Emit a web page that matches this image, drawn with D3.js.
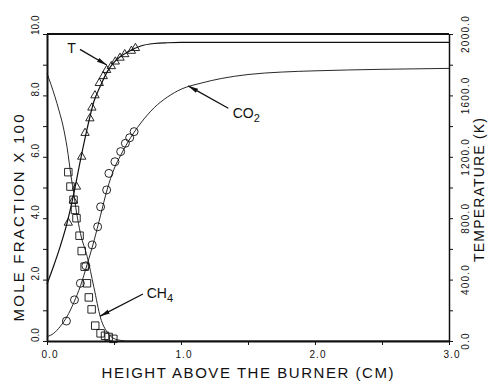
<!DOCTYPE html>
<html>
<head>
<meta charset="utf-8">
<script src="https://cdn.jsdelivr.net/npm/d3@7"></script>
<style>
body { margin: 0; background: #fff; }
svg { display: block; font-family: "Liberation Sans", Arial, sans-serif; }
</style>
</head>
<body>
<div id="container"></div>
<script>
// Axis ticks
const xTickValues = [0, 1, 2, 3]
const xTickLabels = ['0.0', '1.0', '2.0', '3.0']
const leftTickValues = [0, 2, 4, 6, 8, 10]
const leftTickLabels = ['0.0', '2.0', '4.0', '6.0', '8.0', '10.0']
const rightTickValues = [0, 400, 800, 1200, 1600, 2000]
const rightTickLabels = ['0.0', '400.0', '800.0', '1200.0', '1600.0', '2000.0']

// Temperature (K), model curve and measured points (triangles)
const tempCurveX = [0, 0.05, 0.1, 0.15, 0.2, 0.25, 0.3, 0.35, 0.4, 0.45, 0.5, 0.55, 0.6, 0.7, 0.8, 0.9, 1.0, 1.5, 2.0, 2.5, 3.0]
const tempCurveK = [370, 490, 620, 770, 960, 1180, 1385, 1560, 1665, 1755, 1815, 1855, 1882, 1922, 1938, 1943, 1945, 1945, 1945, 1945, 1945]
const tempDataX = [0.159, 0.196, 0.22, 0.259, 0.284, 0.32, 0.335, 0.358, 0.39, 0.42, 0.445, 0.48, 0.51, 0.545, 0.58, 0.63, 0.66]
const tempDataK = [770, 915, 1005, 1200, 1355, 1450, 1520, 1600, 1680, 1725, 1765, 1790, 1820, 1845, 1868, 1890, 1908]

// CH4 mole fraction x 100, curve and measured points (squares)
const ch4CurveX = [0, 0.03, 0.06, 0.09, 0.12, 0.15, 0.18, 0.2, 0.22, 0.25, 0.3, 0.35, 0.4, 0.45, 0.5, 0.55, 0.6, 0.8, 1.0, 3.0]
const ch4CurveY = [8.72, 8.35, 7.95, 7.5, 7.0, 6.3, 5.35, 4.8, 4.2, 3.5, 2.75, 1.75, 0.75, 0.28, 0.08, 0.02, 0, 0, 0, 0]
const ch4DataX = [0.159, 0.175, 0.198, 0.209, 0.22, 0.243, 0.259, 0.281, 0.298, 0.312, 0.333, 0.36, 0.4, 0.433, 0.46, 0.495]
const ch4DataY = [5.5, 5.03, 4.6, 4.27, 4.0, 3.43, 2.93, 2.42, 1.88, 1.42, 1.03, 0.5, 0.25, 0.17, 0.13, 0.07]

// CO2 mole fraction x 100, curve and measured points (circles)
const co2CurveX = [0, 0.05, 0.1, 0.15, 0.2, 0.25, 0.3, 0.35, 0.4, 0.45, 0.5, 0.55, 0.6, 0.65, 0.7, 0.8, 0.9, 1.0, 1.15, 1.3, 1.5, 1.75, 2.0, 2.5, 3.0]
const co2CurveY = [0.14, 0.25, 0.48, 0.8, 1.25, 1.8, 2.5, 3.25, 4.1, 4.95, 5.6, 6.05, 6.45, 6.8, 7.1, 7.6, 7.95, 8.2, 8.4, 8.55, 8.68, 8.76, 8.8, 8.85, 8.88]
const co2DataX = [0.145, 0.205, 0.249, 0.29, 0.337, 0.378, 0.4, 0.445, 0.462, 0.507, 0.55, 0.585, 0.617, 0.65]
const co2DataY = [0.65, 1.34, 1.88, 2.45, 3.13, 3.72, 4.37, 4.92, 5.46, 5.84, 6.17, 6.44, 6.62, 6.82]

window.onload = function () {
  const svg = d3.select('#container').append('svg')
    .attr('width', 488)
    .attr('height', 382)

  // Plot box in pixels
  const boxLeft = 47, boxRight = 449, boxTop = 34, boxBottom = 341

  const x = d3.scaleLinear().domain([0, 3]).range([boxLeft, boxRight])
  const yL = d3.scaleLinear().domain([0, 10]).range([boxBottom, boxTop])
  const yR = d3.scaleLinear().domain([0, 2000]).range([boxBottom, boxTop])

  const ink = '#111'

  // Axes, ticks outward, labels added by hand (rotated)
  const xAxis = svg.append('g')
    .attr('transform', `translate(0, ${boxBottom})`)
    .call(d3.axisBottom(x).tickValues(d3.range(0, 3.01, 0.5)).tickSize(4).tickSizeOuter(0).tickFormat(''))
  const lAxis = svg.append('g')
    .attr('transform', `translate(${boxLeft}, 0)`)
    .call(d3.axisLeft(yL).tickValues(d3.range(0, 10.01, 1)).tickSize(4).tickSizeOuter(0).tickFormat(''))
  const rAxis = svg.append('g')
    .attr('transform', `translate(${boxRight}, 0)`)
    .call(d3.axisRight(yR).tickValues(d3.range(0, 2001, 200)).tickSize(4).tickSizeOuter(0).tickFormat(''))
  xAxis.select('.domain').attr('stroke', ink).attr('stroke-width', 2)
  lAxis.select('.domain').attr('stroke', ink).attr('stroke-width', 2)
  rAxis.select('.domain').attr('stroke', ink).attr('stroke-width', 1.5)
  svg.selectAll('.tick line').attr('stroke', ink).attr('stroke-width', 1)

  // top border
  svg.append('line')
    .attr('x1', boxLeft).attr('x2', boxRight)
    .attr('y1', boxTop).attr('y2', boxTop)
    .attr('stroke', ink).attr('stroke-width', 2)

  // Tick labels
  svg.selectAll('.xlab')
    .data(xTickValues)
    .enter().append('text')
    .attr('x', (d) => x(d) + 3)
    .attr('y', 358)
    .attr('text-anchor', 'middle')
    .attr('font-size', 10)
    .attr('letter-spacing', 1)
    .attr('fill', ink)
    .text((d, i) => xTickLabels[i])

  svg.selectAll('.llab')
    .data(leftTickValues)
    .enter().append('text')
    .attr('transform', (d) => `translate(38.5, ${yL(d) + 1}) rotate(-90)`)
    .attr('text-anchor', 'start')
    .attr('font-size', 10)
    .attr('fill', ink)
    .text((d, i) => leftTickLabels[i])

  svg.selectAll('.rlab')
    .data(rightTickValues)
    .enter().append('text')
    .attr('transform', (d) => `translate(468.5, ${yR(d)}) rotate(-90)`)
    .attr('text-anchor', 'middle')
    .attr('font-size', 10)
    .attr('letter-spacing', 1.2)
    .attr('fill', ink)
    .text((d, i) => rightTickLabels[i])

  // Axis titles
  svg.append('text')
    .attr('x', 247.5).attr('y', 378)
    .attr('text-anchor', 'middle')
    .attr('font-size', 15)
    .attr('textLength', 292).attr('lengthAdjust', 'spacing')
    .attr('fill', ink)
    .text('HEIGHT ABOVE THE BURNER (CM)')

  svg.append('text')
    .attr('transform', 'translate(24, 218) rotate(-90)')
    .attr('text-anchor', 'middle')
    .attr('font-size', 15)
    .attr('textLength', 207).attr('lengthAdjust', 'spacing')
    .attr('fill', ink)
    .text('MOLE FRACTION X 100')

  svg.append('text')
    .attr('transform', 'translate(484, 190) rotate(-90)')
    .attr('text-anchor', 'middle')
    .attr('font-size', 14)
    .attr('textLength', 144).attr('lengthAdjust', 'spacing')
    .attr('fill', ink)
    .text('TEMPERATURE (K)')

  // Curves
  const lineL = d3.line().x((d) => x(d[0])).y((d) => yL(d[1])).curve(d3.curveMonotoneX)
  const lineR = d3.line().x((d) => x(d[0])).y((d) => yR(d[1])).curve(d3.curveMonotoneX)

  svg.append('path')
    .datum(d3.zip(tempCurveX, tempCurveK))
    .attr('d', lineR)
    .attr('fill', 'none').attr('stroke', ink).attr('stroke-width', 1.2)
  svg.append('path')
    .datum(d3.zip(ch4CurveX, ch4CurveY))
    .attr('d', lineL)
    .attr('fill', 'none').attr('stroke', ink).attr('stroke-width', 0.9)
  svg.append('path')
    .datum(d3.zip(co2CurveX, co2CurveY))
    .attr('d', lineL)
    .attr('fill', 'none').attr('stroke', ink).attr('stroke-width', 0.9)

  // Measured points
  svg.selectAll('.tri')
    .data(d3.zip(tempDataX, tempDataK))
    .enter().append('path')
    .attr('d', d3.symbol(d3.symbolTriangle, 30))
    .attr('transform', (d) => `translate(${x(d[0])}, ${yR(d[1])})`)
    .attr('fill', 'none').attr('stroke', ink).attr('stroke-width', 0.9)

  svg.selectAll('.sq')
    .data(d3.zip(ch4DataX, ch4DataY))
    .enter().append('path')
    .attr('d', d3.symbol(d3.symbolSquare, 56))
    .attr('transform', (d) => `translate(${x(d[0])}, ${yL(d[1])})`)
    .attr('fill', 'none').attr('stroke', ink).attr('stroke-width', 0.9)

  svg.selectAll('.circ')
    .data(d3.zip(co2DataX, co2DataY))
    .enter().append('circle')
    .attr('cx', (d) => x(d[0]))
    .attr('cy', (d) => yL(d[1]))
    .attr('r', 4)
    .attr('fill', 'none').attr('stroke', ink).attr('stroke-width', 0.9)

  // Arrow annotations
  svg.append('defs').append('marker')
    .attr('id', 'head')
    .attr('viewBox', '0 0 10 6')
    .attr('refX', 10).attr('refY', 3)
    .attr('markerWidth', 10).attr('markerHeight', 6)
    .attr('markerUnits', 'userSpaceOnUse')
    .attr('orient', 'auto')
    .append('path')
    .attr('d', 'M0,0.8 L10,3 L0,5.2 Z')
    .attr('fill', ink)

  function arrow(x1, y1, x2, y2) {
    svg.append('line')
      .attr('x1', x(x1)).attr('y1', yL(y1))
      .attr('x2', x(x2)).attr('y2', yL(y2))
      .attr('stroke', ink).attr('stroke-width', 1.3)
      .attr('marker-end', 'url(#head)')
  }

  arrow(0.246, 9.5, 0.446, 8.99)
  arrow(1.353, 7.58, 1.054, 8.31)
  arrow(0.716, 1.53, 0.396, 0.81)

  // Labels T, CO2, CH4
  svg.append('text')
    .attr('x', x(0.184)).attr('y', yL(9.37))
    .attr('text-anchor', 'middle')
    .attr('font-size', 14)
    .attr('fill', ink)
    .text('T')

  const co2Label = svg.append('text')
    .attr('x', x(1.386)).attr('y', yL(7.26))
    .attr('font-size', 14)
    .attr('fill', ink)
  co2Label.append('tspan').text('CO')
  co2Label.append('tspan').attr('dy', 4).attr('font-size', 11).text('2')

  const ch4Label = svg.append('text')
    .attr('x', x(0.744)).attr('y', yL(1.4))
    .attr('font-size', 14)
    .attr('fill', ink)
  ch4Label.append('tspan').text('CH')
  ch4Label.append('tspan').attr('dy', 4).attr('font-size', 11).text('4')
}
</script>
</body>
</html>
